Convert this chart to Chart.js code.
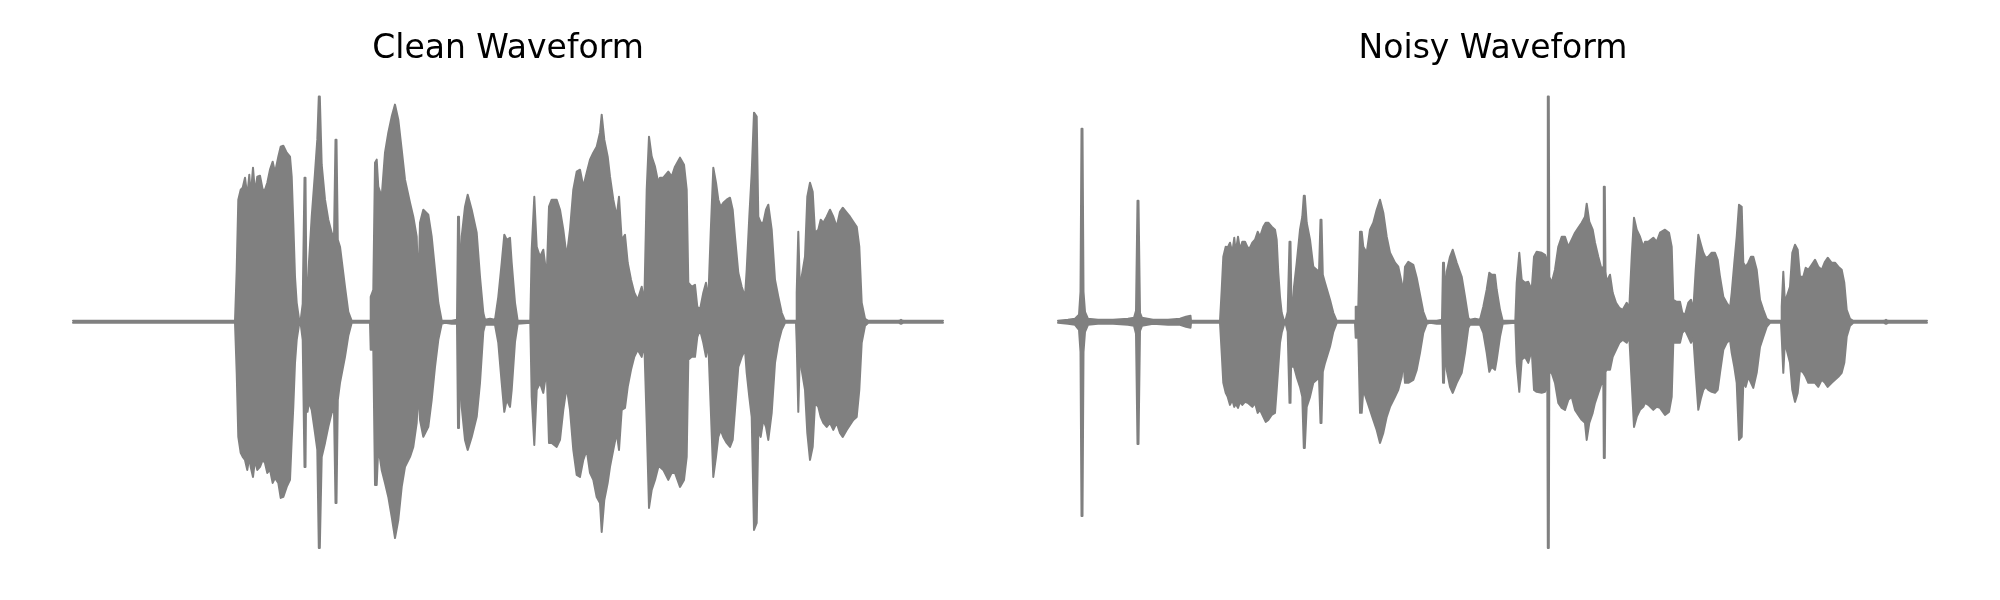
<!DOCTYPE html>
<html>
<head>
<meta charset="utf-8">
<script src="https://cdn.jsdelivr.net/npm/chart.js@4"></script>
<style>
  html, body { margin: 0; padding: 0; background: #fff; }
  #wrap { position: relative; width: 2000px; height: 600px; }
  canvas { position: absolute; top: 0; }
  #clean { left: 69px; }
  #noisy { left: 1054px; }
</style>
</head>
<body>
<div id="wrap">
  <canvas id="clean" width="878" height="600"></canvas>
  <canvas id="noisy" width="878" height="600"></canvas>
</div>
<script>
// time in 10 ms frames, amplitude envelope (max / min of the samples in each frame)
var cleanTime = [
  0, 30, 45, 120, 150, 162, 163.7, 165.3, 167.7, 169.7,
  172, 174.3, 176.3, 177.7, 180, 182, 184.3, 187, 189.7, 192,
  194.3, 197, 199.7, 202, 205.3, 207.7, 210.3, 213.7, 217, 218.7,
  220.3, 222, 223.7, 226, 227.7, 229.7, 231.5, 232.5, 233.5, 234.5,
  236, 238.7, 242, 244.3, 245.8, 246.8, 248.7, 252, 255.3, 258.7,
  261, 262.5, 263.5, 264.8, 267, 272, 275.3, 278.7, 297, 297.7,
  300.3, 302, 303.7, 305.3, 308.7, 312, 315.3, 318.7, 322, 325.3,
  328.7, 332, 337, 340.3, 343.7, 345.3, 347, 350.3, 355.3, 358.7,
  362, 365.3, 368.7, 372, 378.7, 384, 385, 386, 387, 388.7,
  392, 394.7, 398.7, 403.7, 407, 410.3, 412, 417, 422, 425.3,
  428.7, 431.3, 433.7, 437, 438.7, 442, 444.7, 457.3, 458.7, 461.3,
  463.7, 467, 470.3, 473.7, 476, 478.7, 483.7, 487, 490.3, 493.7,
  497, 500.3, 503.7, 507, 510.3, 513.7, 517, 520.3, 523.7, 527,
  528.7, 531.3, 534.7, 537, 540.3, 543.7, 546, 548.7, 552, 554.7,
  558, 561.3, 564.7, 568.7, 571.3, 573.7, 576, 578.7, 582, 585.3,
  587, 590.3, 595.3, 598.7, 602, 607, 611, 613.7, 615.3, 618.7,
  622, 624.3, 627, 630.3, 633, 635.3, 637.7, 640.3, 643, 645.3,
  647.7, 650.3, 653.7, 657, 659.7, 662, 665.3, 668.7, 672, 673.7,
  676.3, 678.7, 681, 683.7, 685.3, 687.7, 690.3, 693, 695.3, 698.7,
  702, 705.3, 708.7, 712, 723, 723.7, 725.3, 727, 728.7, 732,
  734.3, 737, 739.7, 742, 745.3, 747.7, 750.3, 753.7, 757, 760.3,
  763.7, 767, 769.7, 773.7, 777, 780.3, 783.7, 786.3, 788.7, 792,
  795.3, 826, 828, 830, 870
];
var cleanUpper = [
  1, 1, 1, 1, 1, 1, 52, 122, 132, 134,
  144, 125, 147, 125, 154, 129, 145, 146, 132, 132,
  139, 152, 160, 149, 165, 175, 176, 169, 165, 145,
  99, 45, 19, 3, 2, 18, 144, 144, 22, 25,
  60, 105, 149, 182, 225, 225, 157, 122, 102, 89,
  85, 182, 182, 82, 75, 35, 10, 1, 1, 25,
  32, 159, 162, 135, 125, 169, 189, 205, 217, 202,
  172, 142, 119, 105, 85, 32, 99, 112, 107, 85,
  52, 19, 1, 1, 1, 2, 105, 105, 40, 85,
  115, 127, 112, 89, 45, 9, 2, 3, 2, 25,
  59, 87, 82, 84, 59, 19, 1, 1, 72, 125,
  75, 65, 72, 45, 115, 122, 122, 112, 92, 65,
  92, 132, 150, 152, 135, 149, 162, 169, 175, 189,
  207, 182, 165, 145, 122, 105, 125, 82, 87, 59,
  42, 29, 22, 35, 19, 132, 185, 165, 155, 139,
  144, 144, 150, 145, 155, 164, 157, 132, 39, 35,
  37, 15, 12, 29, 39, 22, 89, 154, 139, 122,
  115, 119, 122, 124, 112, 85, 49, 35, 25, 52,
  105, 149, 209, 205, 105, 99, 99, 112, 117, 92,
  42, 25, 9, 1, 1, 29, 90, 30, 45, 65,
  125, 139, 130, 89, 92, 102, 99, 105, 112, 105,
  95, 110, 114, 109, 105, 100, 95, 75, 19, 3,
  1, 1, 2, 1, 1
];
var cleanLower = [
  -1, -1, -1, -1, -1, -1, -51, -115, -131, -135,
  -138, -148, -135, -145, -155, -138, -148, -145, -138, -141,
  -151, -148, -161, -156, -161, -176, -175, -165, -158, -118,
  -85, -41, -18, -3, -2, -18, -145, -145, -25, -90,
  -80, -88, -111, -128, -226, -226, -135, -121, -105, -91,
  -88, -181, -181, -78, -61, -35, -14, -1, -1, -28,
  -28, -163, -163, -125, -148, -161, -175, -195, -216, -198,
  -165, -145, -135, -125, -101, -68, -98, -115, -105, -78,
  -45, -18, -2, -1, -2, -2, -106, -106, -40, -85,
  -118, -128, -115, -95, -61, -10, -3, -3, -3, -21,
  -61, -90, -78, -85, -68, -20, -2, -1, -75, -123,
  -68, -61, -71, -48, -121, -121, -125, -118, -88, -65,
  -88, -128, -153, -155, -138, -128, -151, -158, -175, -181,
  -210, -178, -161, -145, -128, -111, -128, -88, -86, -65,
  -48, -35, -28, -35, -21, -101, -186, -168, -158, -145,
  -145, -148, -158, -151, -151, -165, -158, -135, -38, -35,
  -35, -15, -8, -21, -35, -21, -85, -155, -135, -115,
  -108, -115, -121, -125, -118, -88, -45, -35, -28, -51,
  -75, -95, -208, -201, -108, -115, -98, -105, -118, -91,
  -41, -21, -8, -1, -1, -21, -90, -25, -48, -68,
  -111, -138, -125, -81, -85, -95, -101, -105, -101, -108,
  -101, -111, -115, -108, -103, -98, -95, -68, -21, -4,
  -1, -1, -2, -1, -1
];

var noisyTime = [
  0, 10, 17, 21, 22.5, 23.5, 24.5, 25.5, 27, 30,
  40, 55, 70, 76, 78, 79.5, 80.5, 82, 84, 95,
  110, 122, 128, 132.5, 133, 160, 162, 163.7, 165.3, 167.7,
  169.7, 172, 174.3, 176.3, 177.7, 180, 182, 184.3, 187, 189.7,
  192, 194.3, 197, 199.7, 202, 205.3, 207.7, 210.3, 213.7, 217,
  218.7, 220.3, 222, 223.7, 226, 227.7, 229.7, 231.5, 232.5, 233.5,
  234.5, 236, 238.7, 242, 244.3, 245.8, 246.8, 248.7, 252, 255.3,
  258.7, 261, 262.5, 263.5, 264.8, 267, 272, 275.3, 278.7, 297,
  297.7, 300.3, 302, 303.7, 305.3, 308.7, 312, 315.3, 318.7, 322,
  325.3, 328.7, 332, 337, 340.3, 343.7, 345.3, 347, 350.3, 355.3,
  358.7, 362, 365.3, 368.7, 372, 378.7, 384, 385, 386, 387,
  388.7, 392, 394.7, 398.7, 403.7, 407, 410.3, 412, 417, 422,
  425.3, 428.7, 431.3, 433.7, 437, 438.7, 442, 444.7, 457.3, 458.7,
  461.3, 463.7, 467, 470.3, 473.7, 476, 478.7, 483.7, 487, 489.3,
  489.8, 490.8, 491.3, 493.7, 497, 500.3, 503.7, 507, 510.3, 513.7,
  517, 520.3, 523.7, 527, 528.7, 531.3, 534.7, 537, 540.3, 543.7,
  545.3, 545.8, 546.8, 547.5, 548.7, 552, 554.7, 558, 561.3, 564.7,
  568.7, 571.3, 573.7, 576, 578.7, 582, 585.3, 587, 590.3, 595.3,
  598.7, 602, 607, 611, 613.7, 615.3, 618.7, 622, 624.3, 627,
  630.3, 633, 635.3, 637.7, 640.3, 643, 645.3, 647.7, 650.3, 653.7,
  657, 659.7, 662, 665.3, 668.7, 672, 673.7, 676.3, 678.7, 681,
  683.7, 685.3, 687.7, 690.3, 693, 695.3, 698.7, 702, 705.3, 708.7,
  712, 723, 723.7, 725.3, 727, 728.7, 732, 734.3, 737, 739.7,
  742, 745.3, 747.7, 750.3, 753.7, 757, 760.3, 763.7, 767, 769.7,
  773.7, 777, 780.3, 783.7, 786.3, 788.7, 792, 795.3, 826, 828,
  830, 869
];
var noisyUpper = [
  1, 2, 3, 7, 30, 193, 193, 30, 10, 3,
  2, 2, 3, 4, 11, 121, 121, 9, 4, 2,
  2, 3, 5, 6, 1, 1, 1, 32, 65, 75,
  74, 79, 69, 84, 69, 85, 72, 80, 80, 74,
  74, 79, 82, 90, 85, 95, 99, 99, 95, 92,
  82, 49, 25, 9, 1, 2, 10, 80, 80, 12,
  12, 35, 59, 92, 105, 126, 126, 99, 82, 55,
  52, 50, 102, 102, 47, 39, 22, 9, 1, 1,
  15, 15, 90, 90, 75, 69, 92, 99, 112, 122,
  109, 85, 69, 59, 55, 39, 29, 55, 60, 57,
  44, 27, 10, 1, 1, 1, 2, 59, 59, 25,
  50, 65, 72, 59, 45, 25, 4, 2, 3, 2,
  15, 32, 49, 47, 47, 32, 12, 1, 1, 39,
  69, 42, 39, 40, 32, 65, 70, 69, 67, 60,
  225, 225, 45, 39, 52, 75, 85, 85, 75, 82,
  89, 94, 99, 105, 118, 100, 92, 79, 65, 52,
  55, 135, 135, 50, 40, 47, 29, 19, 14, 12,
  19, 14, 65, 104, 92, 85, 75, 80, 80, 84,
  80, 89, 92, 89, 75, 22, 20, 20, 9, 7,
  19, 22, 12, 52, 87, 77, 69, 64, 65, 69,
  69, 62, 45, 25, 19, 14, 29, 59, 85, 117,
  115, 59, 55, 59, 65, 65, 52, 22, 12, 3,
  1, 1, 15, 50, 18, 25, 35, 69, 77, 72,
  45, 45, 54, 52, 57, 62, 55, 52, 60, 64,
  59, 59, 55, 52, 39, 12, 3, 1, 1, 2,
  1, 1
];
var noisyLower = [
  -1, -2, -3, -8, -30, -194, -194, -30, -10, -3,
  -2, -2, -3, -4, -12, -122, -122, -9, -4, -2,
  -3, -3, -5, -6, -1, -1, -1, -31, -61, -71,
  -75, -83, -78, -85, -82, -86, -80, -83, -80, -81,
  -83, -85, -81, -91, -88, -95, -100, -98, -93, -91,
  -68, -45, -21, -11, -3, -2, -10, -81, -81, -14,
  -45, -45, -55, -65, -75, -126, -126, -85, -75, -61,
  -58, -56, -101, -101, -50, -41, -25, -10, -1, -1,
  -16, -16, -91, -91, -68, -78, -88, -98, -108, -121,
  -111, -95, -85, -75, -68, -55, -38, -61, -61, -58,
  -48, -31, -11, -2, -1, -2, -2, -61, -61, -25,
  -48, -65, -71, -61, -51, -31, -6, -3, -3, -3,
  -11, -31, -50, -45, -48, -38, -15, -2, -1, -41,
  -70, -38, -35, -41, -28, -68, -70, -71, -70, -60,
  -226, -226, -51, -51, -61, -81, -86, -88, -78, -75,
  -88, -93, -98, -101, -118, -101, -91, -81, -71, -61,
  -60, -136, -136, -50, -48, -48, -35, -28, -21, -18,
  -21, -15, -61, -105, -95, -88, -85, -81, -83, -88,
  -85, -86, -93, -90, -75, -21, -21, -21, -11, -8,
  -15, -21, -15, -51, -88, -76, -68, -65, -68, -70,
  -71, -68, -51, -28, -21, -18, -31, -45, -61, -118,
  -115, -61, -65, -55, -61, -66, -51, -25, -15, -5,
  -1, -1, -15, -51, -18, -28, -41, -68, -80, -71,
  -48, -51, -55, -61, -61, -61, -65, -58, -61, -65,
  -61, -58, -55, -51, -41, -15, -4, -1, -1, -2,
  -1, -1
];

var GRAY = '#808080';

function pts(times, vals) {
  return times.map(function(t, i) { return { x: t, y: vals[i] }; });
}

function drawWave(id, title, times, upper, lower) {
  var line = {
    borderColor: GRAY,
    backgroundColor: GRAY,
    borderWidth: 2,
    borderJoinStyle: 'round',
    borderCapStyle: 'round',
    pointRadius: 0,
    tension: 0,
    clip: false
  };
  return new Chart(document.getElementById(id), {
    type: 'line',
    data: {
      datasets: [
        Object.assign({ label: 'max', data: pts(times, upper), fill: '+1' }, line),
        Object.assign({ label: 'min', data: pts(times, lower), fill: false }, line)
      ]
    },
    options: {
      responsive: false,
      animation: false,
      devicePixelRatio: 1,
      layout: { padding: { left: 4, right: 4, top: 0, bottom: 28 } },
      plugins: {
        legend: { display: false },
        tooltip: { enabled: false },
        title: {
          display: true,
          text: title,
          color: '#000',
          font: { family: 'DejaVu Sans', size: 33, weight: 'normal' },
          padding: { top: 30, bottom: 2 }
        }
      },
      scales: {
        x: { type: 'linear', min: 0, max: 870, display: false },
        y: { min: -250, max: 250, display: false }
      }
    }
  });
}

drawWave('clean', 'Clean Waveform', cleanTime, cleanUpper, cleanLower);
drawWave('noisy', 'Noisy Waveform', noisyTime, noisyUpper, noisyLower);
</script>
</body>
</html>
